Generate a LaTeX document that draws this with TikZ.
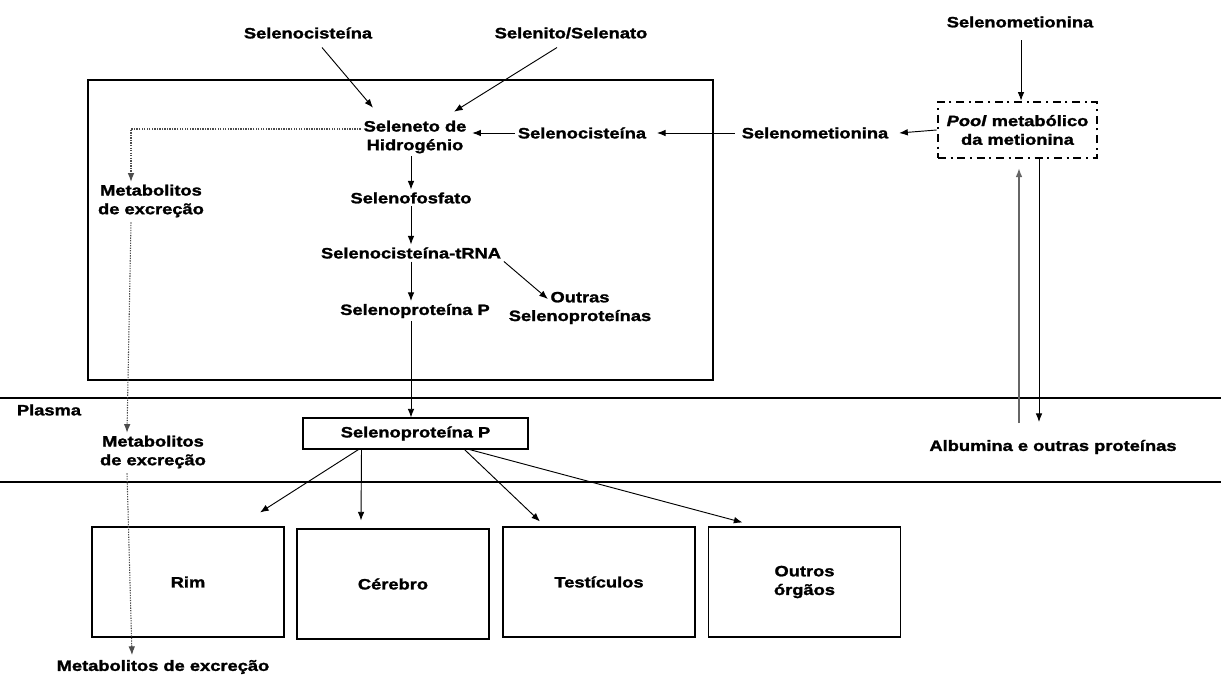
\documentclass[tikz,border=0pt]{standalone}
\usepackage{fontspec}
\newfontfamily\labfont{Liberation Sans}[UprightFont=* Bold, ItalicFont=* Bold Italic, FakeStretch=1.22, FakeBold=1.6]
\usetikzlibrary{arrows.meta,calc}
\begin{document}
\begin{tikzpicture}[x=0.75pt,y=-0.75pt,
  lab/.style={font=\labfont\fontsize{11.25}{14}\selectfont, align=center, inner sep=2pt},
  arr/.style={-{Latex[length=6.5pt,width=5pt]}, line width=0.7pt},
  dotarr/.style={arr, draw=black!70, line width=0.8pt, dash pattern=on 1pt off 0.9pt},
  frame/.style={draw, line width=0.8pt, inner sep=0pt},
  organ/.style={lab, draw, line width=0.8pt, minimum width=144pt, minimum height=82.5pt},
  pool/.style={lab, draw, line width=2pt, dash pattern=on 6pt off 3.5pt on 1.5pt off 3.5pt, minimum width=119.25pt, minimum height=42pt},
  sepline/.style={line width=0.8pt}
]
\useasboundingbox (0,0) rectangle (1221,675);

% horizontal separators
\coordinate (l1a) at (0,398); \coordinate (l1b) at (1221,398);
\coordinate (l2a) at (0,482); \coordinate (l2b) at (1221,482);
\draw[sepline] (l1a) -- (l1b);
\draw[sepline] (l2a) -- (l2b);

% cell frame
\node[frame, minimum width=468.75pt, minimum height=225pt] (cell) at (400.5,230) {};

% nodes
\node[lab] (sc1) at (308,33) {Selenocisteína};
\node[lab] (ss) at (571,33) {Selenito/Selenato};
\node[lab] (smt) at (1020,22) {Selenometionina};
\node[lab] (hs) at (415,137) {Seleneto de\\Hidrogénio};
\node[lab] (sc2) at (582,133) {Selenocisteína};
\node[lab] (smm) at (815,133) {Selenometionina};
\node[pool] (pool) at (1017.5,130) {\textit{Pool} metabólico\\da metionina};
\node[lab] (met1) at (151,201) {Metabolitos\\de excreção};
\node[lab] (sf) at (411,198) {Selenofosfato};
\node[lab] (trna) at (411,253) {Selenocisteína-tRNA};
\node[lab] (sep1) at (415,311) {Selenoproteína P};
\node[lab] (outras) at (580,308) {Outras\\Selenoproteínas};
\node[lab] (plasma) at (49,410) {Plasma};
\node[lab, draw, line width=0.8pt, minimum width=168.75pt, minimum height=23.25pt] (sep2) at (415.5,433.5) {Selenoproteína P};
\node[lab] (met2) at (153,452) {Metabolitos\\de excreção};
\node[lab] (alb) at (1053,447) {Albumina e outras proteínas};
\node[organ] (rim) at (188,582) {Rim};
\node[organ] (cer) at (393,584) {Cérebro};
\node[organ] (tes) at (599,582) {Testículos};
\node[organ] (out) at (804.5,582) {Outros\\órgãos};
\node[lab] (met3) at (163,667) {Metabolitos de excreção};

% arrows
\draw[arr] ([shift={(14,6)}]sc1.south) -- ([shift={(-42,-10)}]hs.north);
\draw[arr] ([shift={(-14,6)}]ss.south) -- ([shift={(39,-6)}]hs.north);
\draw[arr] ([shift={(1,10)}]smt.south) -- ([xshift=0.75pt]smt.south |- pool.north);
\draw[arr] (pool.west) -- ([shift={(8,0)}]smm.east);
\draw[arr] ([shift={(-4,0)}]smm.west) -- ([shift={(8,0)}]sc2.east);
\draw[arr] (sc2.west) -- ([shift={(3,-4)}]hs.east);
\draw[arr] (sf.north |- hs.south) -- (sf.north);
\draw[arr] (sf.south) -- (trna.north);
\draw[arr] (trna.south) -- (trna.south |- sep1.north);
\draw[arr] (trna.south east) -- ([shift={(42,-9)}]outras.west);
\draw[arr] (trna.south |- sep1.south) -- (trna.south |- sep2.north);

\draw[arr] ([shift={(-57,0)}]sep2.south) -- ([shift={(72,-14)}]rim.north);
\draw[arr] ([shift={(-54,0)}]sep2.south) -- ([shift={(-32,-8)}]cer.north);
\draw[arr] ([shift={(49,0)}]sep2.south) -- ([shift={(-59,-5)}]tes.north);
\draw[arr] ([shift={(54,0)}]sep2.south) -- ([shift={(-62,-4)}]out.north);

\draw[arr, draw=black!60, line width=1pt] ([shift={(1.5,-14)}]pool.south |- alb.north) -- ([shift={(1.5,9)}]pool.south);
\draw[arr] ([shift={(21.5,0)}]pool.south) -- ([shift={(21.5,-15)}]pool.south |- alb.north);

% dotted excretion path
\draw[dotarr] ([shift={(0,-8)}]hs.west) -| ([shift={(-20,0)}]met1.north);
\draw[dotarr] ([shift={(-20,2)}]met1.south) -- ([shift={(-26,0)}]met2.north);
\draw[dotarr] ([shift={(-26,2)}]met2.south) -- ([shift={(-31,-2)}]met3.north);
\end{tikzpicture}
\end{document}
